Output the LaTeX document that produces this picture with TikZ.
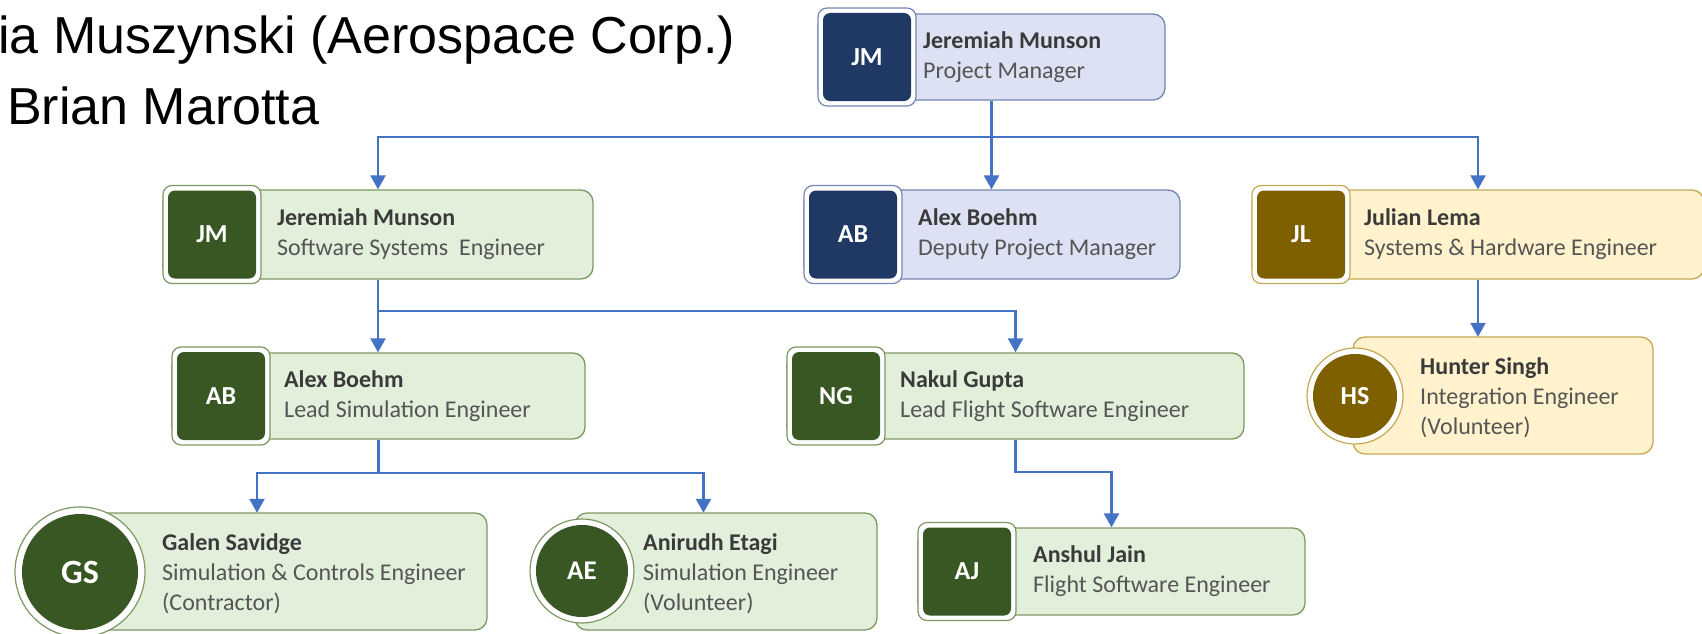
\documentclass[tikz,border=0pt]{standalone}
\usepackage{fontspec}
\setmainfont{Carlito}
\newfontfamily\arialf{Liberation Sans}
\usetikzlibrary{arrows.meta}
\definecolor{connc}{HTML}{4472C4}
\definecolor{nmc}{HTML}{3A3A3A}
\definecolor{rlc}{HTML}{555555}
% blue palette
\definecolor{bdark}{HTML}{203864}
\definecolor{bfill}{HTML}{DCE1F3}
\definecolor{bline}{HTML}{7686B4}
% green palette
\definecolor{gdark}{HTML}{385723}
\definecolor{gfill}{HTML}{E2EFDA}
\definecolor{gline}{HTML}{7D9863}
% gold palette
\definecolor{ydark}{HTML}{7F6000}
\definecolor{yfill}{HTML}{FFF2CC}
\definecolor{yline}{HTML}{C4A955}
\tikzset{
  line/.style={draw=connc, line width=2.4pt},
  conn/.style={line, -{Triangle[width=15pt,length=14pt]}},
  boxb/.style={draw=bline, fill=bfill, line width=1.3pt, rounded corners=12pt, inner sep=0pt},
  boxg/.style={draw=gline, fill=gfill, line width=1.3pt, rounded corners=12pt, inner sep=0pt},
  boxy/.style={draw=yline, fill=yfill, line width=1.3pt, rounded corners=12pt, inner sep=0pt},
  ringb/.style={draw=bline, fill=white, line width=1.2pt, rounded corners=9pt, minimum size=98pt, inner sep=0pt},
  ringg/.style={draw=gline, fill=white, line width=1.2pt, rounded corners=9pt, minimum size=98pt, inner sep=0pt},
  ringy/.style={draw=yline, fill=white, line width=1.2pt, rounded corners=9pt, minimum size=98pt, inner sep=0pt},
  sqb/.style={fill=bdark, rounded corners=7pt, minimum size=88pt, inner sep=0pt, text=white, font=\bfseries\fontsize{26}{28}\selectfont},
  sqg/.style={fill=gdark, rounded corners=7pt, minimum size=88pt, inner sep=0pt, text=white, font=\bfseries\fontsize{26}{28}\selectfont},
  sqy/.style={fill=ydark, rounded corners=7pt, minimum size=88pt, inner sep=0pt, text=white, font=\bfseries\fontsize{26}{28}\selectfont},
  cring/.style={circle, fill=white, line width=1.2pt, inner sep=0pt},
  cdot/.style={circle, inner sep=0pt, text=white},
  txt/.style={anchor=west, align=left, inner sep=0pt, font=\fontsize{24}{30}\selectfont},
  grp/.style={inner sep=0pt, draw=none},
  title/.style={anchor=base west, inner sep=0pt, font=\arialf\fontsize{52}{60}\selectfont}
}
\newcommand\nm[1]{\textcolor{nmc}{\bfseries #1}}
\newcommand\rl[1]{\textcolor{rlc}{#1}}
% #1 id, #2 palette, #3 left, #4 right, #5 top, #6 bottom, #7 initials, #8 text x, #9 text
\newcommand\sqperson[9]{%
  \node[box#2, minimum width={#4-#3}, minimum height={#6-#5}] (#1) at ({(#3+#4)/2},{(#5+#6)/2}) {};
  \node[ring#2] (#1-ring) at ({#3+49},{(#5+#6)/2}) {};
  \node[sq#2] (#1-pic) at (#1-ring.center) {#7};
  \node[txt] (#1-txt) at (#8,{(#5+#6)/2}) {#9};
}
\begin{document}
\begin{tikzpicture}[x=1pt,y=-1pt]
\useasboundingbox (0,0) rectangle (1702,634);

\node[title] (t1) at (-2,53) {ia Muszynski (Aerospace Corp.)};
\node[title] (t2) at (7,124) {Brian Marotta};

% square-badge people
\sqperson{pm}{b}{818}{1165}{14}{100}{JM}{923}{\nm{Jeremiah Munson}\\\rl{Project Manager}}
\sqperson{jm2}{g}{163}{593}{190}{279}{JM}{277}{\nm{Jeremiah Munson}\\\rl{Software Systems\ \ Engineer}}
\sqperson{ab2}{b}{804}{1180}{190}{279}{AB}{918}{\nm{Alex Boehm}\\\rl{Deputy Project Manager}}
\sqperson{jl}{y}{1252}{1704}{190}{279}{JL}{1364}{\nm{Julian Lema}\\\rl{Systems \& Hardware Engineer}}
\sqperson{ab3}{g}{172}{585}{353}{439}{AB}{284}{\nm{Alex Boehm}\\\rl{Lead Simulation Engineer}}
\sqperson{ng}{g}{787}{1244}{353}{439}{NG}{900}{\nm{Nakul Gupta}\\\rl{Lead Flight Software Engineer}}
\sqperson{aj}{g}{918}{1305}{528}{615}{AJ}{1033}{\nm{Anshul Jain}\\\rl{Flight Software Engineer}}

% Hunter Singh
\node[grp, minimum width=346pt, minimum height=117pt] (hs) at (1480,395.5) {};
\node[boxy, minimum width=300pt, minimum height=117pt] (hs-box) at (1503,395.5) {};
\node[cring, draw=yline, minimum size=96pt] (hs-ring) at (1355,396) {};
\node[cdot, fill=ydark, minimum size=84pt, font=\bfseries\fontsize{26}{28}\selectfont] (hs-pic) at (hs-ring.center) {HS};
\node[txt] (hs-txt) at (1420,398) {\nm{Hunter Singh}\\\rl{Integration Engineer}\\\rl{(Volunteer)}};

% Galen Savidge
\node[grp, minimum width=460pt, minimum height=117pt] (gs) at (257,571.5) {};
\node[boxg, minimum width=420pt, minimum height=117pt] (gs-box) at (277,571.5) {};
\node[cring, draw=gline, minimum size=130pt] (gs-ring) at (80,572) {};
\node[cdot, fill=gdark, minimum size=116pt, font=\bfseries\fontsize{34}{36}\selectfont] (gs-pic) at (gs-ring.center) {GS};
\node[txt] (gs-txt) at (162,574) {\nm{Galen Savidge}\\\rl{Simulation \& Controls Engineer}\\\rl{(Contractor)}};

% Anirudh Etagi
\node[grp, minimum width=347pt, minimum height=117pt] (ae) at (703.5,571.5) {};
\node[boxg, minimum width=302pt, minimum height=117pt] (ae-box) at (726,571.5) {};
\node[cring, draw=gline, minimum size=104pt] (ae-ring) at (582,571) {};
\node[cdot, fill=gdark, minimum size=92pt, font=\bfseries\fontsize{27}{28}\selectfont] (ae-pic) at (ae-ring.center) {AE};
\node[txt] (ae-txt) at (643,574) {\nm{Anirudh Etagi}\\\rl{Simulation Engineer}\\\rl{(Volunteer)}};

% bus levels
\coordinate (lvl1) at (0,137);
\coordinate (lvl2) at (0,311);
\coordinate (lvl3) at (0,473);
\coordinate (lvl4) at (0,472);

% connectors
\draw[conn] (pm.south) -- (pm.south |- lvl1) -| (jm2.north);
\draw[conn] (pm.south) -- (pm.south |- ab2.north);
\draw[conn] (pm.south) -- (pm.south |- lvl1) -| (jl.north);
\draw[conn] (jm2.south) -- (jm2.south |- ab3.north);
\draw[conn] (jm2.south) |- (lvl2 -| ng.north) -- (ng.north);
\draw[conn] (jl.south) -- (jl.south |- hs.north);
\draw[conn] (ab3.south) |- (lvl3 -| gs.north) -- (gs.north);
\draw[conn] (ab3.south) |- (lvl3 -| ae.north) -- (ae.north);
\draw[conn] (ng.south) |- (lvl4 -| aj.north) -- (aj.north);
\end{tikzpicture}
\end{document}
